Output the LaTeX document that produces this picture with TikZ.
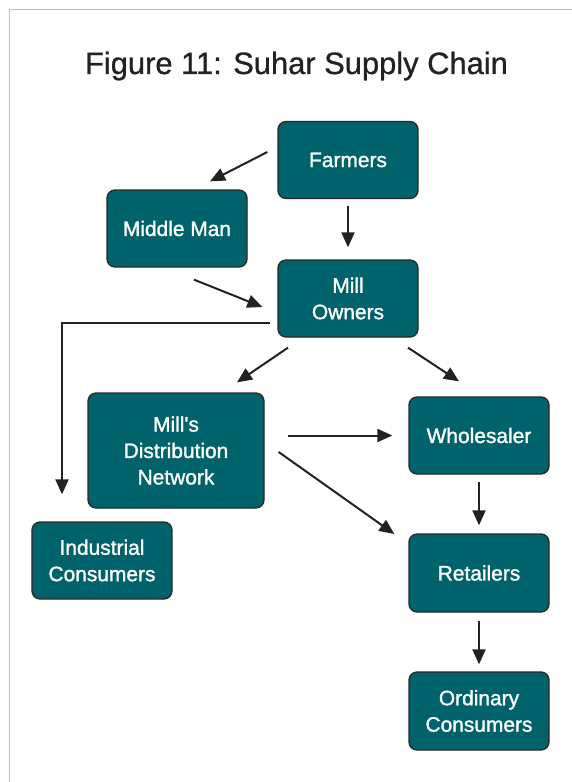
\documentclass[tikz,border=0pt]{standalone}
\usepackage{fontspec}
\setmainfont{Liberation Sans}
\newfontfamily\medfont[FakeBold=1.3]{Liberation Sans}
\newfontfamily\titlefont[FakeBold=0.8]{Liberation Sans}
\usetikzlibrary{calc,arrows.meta}
\definecolor{teal}{RGB}{0,99,107}
\definecolor{edge}{RGB}{40,40,40}
\definecolor{ink}{RGB}{34,34,34}
\definecolor{frame}{RGB}{190,190,190}
\begin{document}
\begin{tikzpicture}[x=1bp,y=-1bp,
  box/.style={draw=edge, line width=1.3bp, fill=teal, rounded corners=8bp,
    minimum width=140bp, minimum height=77bp, inner sep=2bp, align=center,
    text=white, font=\medfont\fontsize{21}{26.5}\selectfont},
  conn/.style={draw=ink, line width=2bp, -{Triangle[length=15bp,width=13bp]}}]
\useasboundingbox (0,0) rectangle (572,782);
\fill[white] (0,0) rectangle (572,782);
\draw[frame, line width=1.3bp] (9.5,782) -- (9.5,9.5) -- (572,9.5);
\node[anchor=base, text=ink, font=\titlefont\fontsize{31}{36}\selectfont] (title) at (296.5,74) {Figure 11: Suhar Supply Chain};
\node[box] (farm) at (348,160) {Farmers};
\node[box] (mid) at (177,228.5) {Middle Man};
\node[box] (mill) at (348,298.5) {Mill\\Owners};
\node[box, minimum width=176bp, minimum height=115bp] (dist) at (176,450.5) {Mill{\char"27}s\\Distribution\\Network};
\node[box] (whole) at (479,435.5) {Wholesaler};
\node[box] (ind) at (102,560.5) {Industrial\\Consumers};
\node[box, minimum height=78bp] (ret) at (479,573) {Retailers};
\node[box, minimum height=78bp] (ord) at (479,711) {Ordinary\\Consumers};
\draw[conn] ($(farm.west)+(-10,-8)$) -- ($(mid.north)+(33,-8)$);
\draw[conn] ($(farm.south)+(0,7)$) -- ($(mill.north)+(0,-12)$);
\draw[conn] ($(mid.south)+(17,12)$) -- ($(mill.west)+(-15,8.5)$);
\draw[conn] ($(mill.west)+(-7,24.5)$) -| ($(ind.north)+(-40,-27)$);
\draw[conn] ($(mill.south)+(-60,10)$) -- ($(dist.north)+(61,-10)$);
\draw[conn] ($(mill.south)+(60,10)$) -- ($(whole.north)+(-20,-15)$);
\draw[conn] ($(dist.east)+(23,-15)$) -- ($(whole.west)+(-16,0)$);
\draw[conn] ($(dist.east)+(14,1.5)$) -- ($(ret.west)+(-14,-39)$);
\draw[conn] ($(whole.south)+(0,7)$) -- ($(ret.north)+(0,-8)$);
\draw[conn] ($(ret.south)+(0,8)$) -- ($(ord.north)+(0,-7)$);
\end{tikzpicture}
\end{document}
